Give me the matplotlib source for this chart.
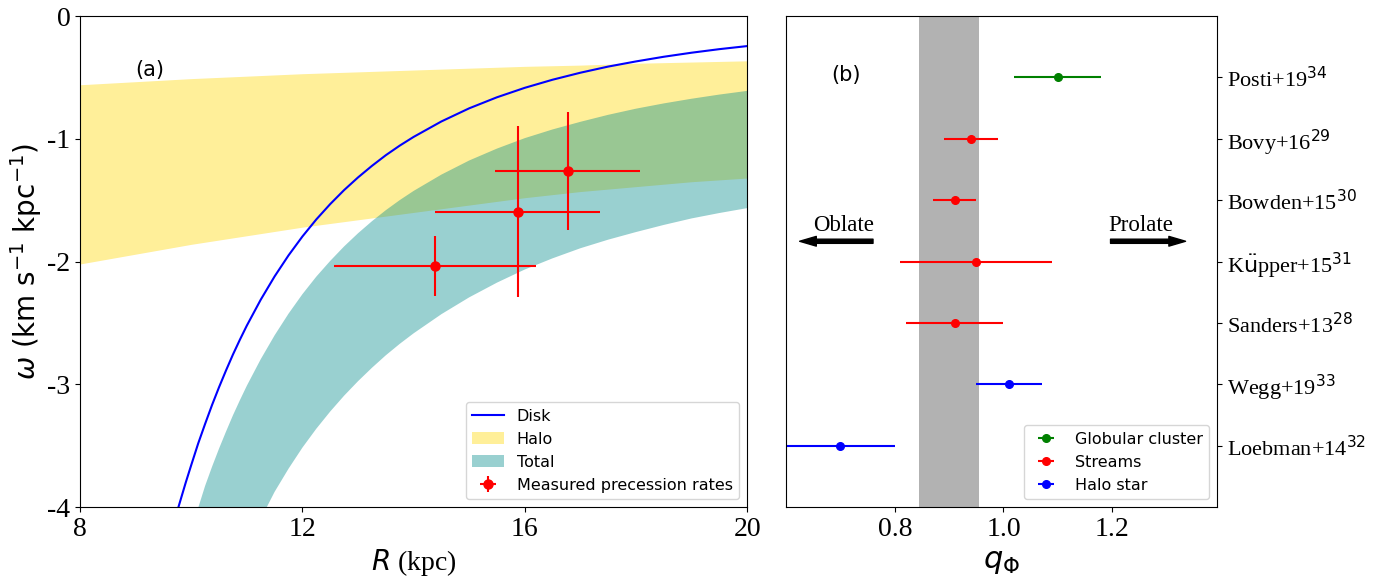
import matplotlib
matplotlib.use('Agg')
import matplotlib.pyplot as plt
import numpy as np

plt.rcParams['font.family'] = 'serif'
plt.rcParams['font.serif'] = ['Liberation Serif', 'DejaVu Serif']
plt.rcParams['mathtext.fontset'] = 'dejavusans'
plt.rcParams['axes.unicode_minus'] = False

# --- panel (a): precession rates vs radius ---
R_disk = [9.77, 9.9, 10.0, 10.125, 10.25, 10.375, 10.5, 10.625, 10.75, 10.875, 11.0,
          11.25, 11.5, 11.75, 12.0, 12.25, 12.5, 12.75, 13.0, 13.25, 13.5, 13.75,
          14.0, 14.5, 15.0, 15.5, 16.0, 16.5, 17.0, 17.5, 18.0, 18.5, 19.0, 19.5, 20.0]
w_disk = [-4.00, -3.802, -3.658, -3.482, -3.322, -3.168, -3.024, -2.888, -2.758, -2.637, -2.522,
          -2.311, -2.121, -1.950, -1.796, -1.657, -1.532, -1.418, -1.315, -1.221, -1.134, -1.056,
          -0.985, -0.859, -0.752, -0.662, -0.585, -0.519, -0.462, -0.412, -0.370, -0.332,
          -0.299, -0.270, -0.245]

R_halo = [8, 9, 10, 11, 12, 13, 14, 15, 16, 17, 18, 19, 20]
w_halo_hi = [-0.56, -0.535, -0.51, -0.49, -0.47, -0.455, -0.44, -0.425, -0.41, -0.40, -0.385, -0.375, -0.365]
w_halo_lo = [-2.02, -1.94, -1.86, -1.79, -1.72, -1.66, -1.60, -1.54, -1.48, -1.43, -1.39, -1.35, -1.32]

R_tot_hi = [10.13, 10.25, 10.375, 10.5, 10.625, 10.75, 10.875, 11.0, 11.25, 11.5, 11.75,
            12.0, 12.25, 12.5, 12.75, 13.0, 13.25, 13.5, 13.75, 14.0, 14.5, 15.0, 15.5,
            16.0, 16.5, 17.0, 17.5, 18.0, 18.5, 19.0, 19.5, 20.0]
w_tot_hi = [-4.00, -3.827, -3.671, -3.524, -3.386, -3.253, -3.130, -3.012, -2.796, -2.601, -2.425,
            -2.266, -2.123, -1.995, -1.877, -1.770, -1.672, -1.582, -1.500, -1.425, -1.292, -1.177,
            -1.080, -0.995, -0.924, -0.862, -0.805, -0.755, -0.712, -0.674, -0.640, -0.61]
R_tot_lo = [11.36, 11.5, 11.75, 12.0, 12.25, 12.5, 12.75, 13.0, 13.25, 13.5, 13.75, 14.0,
            14.5, 15.0, 15.5, 16.0, 16.5, 17.0, 17.5, 18.0, 18.5, 19.0, 19.5, 20.0]
w_tot_lo = [-4.00, -3.876, -3.688, -3.516, -3.362, -3.222, -3.093, -2.975, -2.866, -2.764, -2.671,
            -2.585, -2.429, -2.292, -2.172, -2.065, -1.974, -1.892, -1.822, -1.760, -1.702,
            -1.649, -1.605, -1.565]

R_meas = [14.38, 15.87, 16.77]
R_meas_err = [1.82, 1.48, 1.30]
w_meas = [-2.035, -1.595, -1.26]
w_meas_err = [0.245, 0.695, 0.48]

# --- panel (b): halo flattening estimates ---
studies = ['Posti+19$^{34}$', 'Bovy+16$^{29}$', 'Bowden+15$^{30}$',
           r'K$\ddot{\rm u}$pper+15$^{31}$', 'Sanders+13$^{28}$',
           'Wegg+19$^{33}$', 'Loebman+14$^{32}$']
q_val = [1.10, 0.94, 0.91, 0.95, 0.91, 1.01, 0.70]
q_err = [0.08, 0.05, 0.04, 0.14, 0.09, 0.06, 0.10]
tracer = ['Globular cluster', 'Streams', 'Streams', 'Streams', 'Streams',
          'Halo star', 'Halo star']
tracer_names = ['Globular cluster', 'Streams', 'Halo star']
tracer_colors = ['green', 'red', 'blue']
q_band = (0.845, 0.955)

fig = plt.figure(figsize=(13.9, 5.78), dpi=100)
ax1 = fig.add_axes([0.0576, 0.1228, 0.4799, 0.8495])
ax2 = fig.add_axes([0.5655, 0.1228, 0.3101, 0.8495])

ax1.plot(R_disk, w_disk, color='blue', lw=1.5, label='Disk')
ax1.fill_between(R_halo, w_halo_lo, w_halo_hi, color='gold', alpha=0.4,
                 lw=0, label='Halo')
ax1.fill(np.concatenate([R_tot_hi, R_tot_lo[::-1]]),
         np.concatenate([w_tot_hi, w_tot_lo[::-1]]),
         color='darkcyan', alpha=0.4, lw=0, label='Total')
ax1.errorbar(R_meas, w_meas, xerr=R_meas_err, yerr=w_meas_err, fmt='o',
             color='red', ms=6.5, elinewidth=1.5, label='Measured precession rates')

ax1.set_xlim(8, 20)
ax1.set_ylim(-4, 0)
ax1.set_xticks([8, 12, 16, 20])
ax1.set_yticks([0, -1, -2, -3, -4])
ax1.tick_params(labelsize=20)
ax1.set_xlabel('$R$ (kpc)', fontsize=20)
ax1.set_ylabel(r'$\omega$ (km s$^{-1}$ kpc$^{-1}$)', fontsize=20,
               fontfamily='DejaVu Sans', labelpad=2)
ax1.text(0.105, 0.89, '(a)', transform=ax1.transAxes, ha='center', va='center',
         fontsize=15, fontfamily='DejaVu Sans')
ax1.legend(loc='lower right', prop={'family': 'DejaVu Sans', 'size': 11.5})

ypos = np.arange(len(studies))[::-1]
ax2.axvspan(q_band[0], q_band[1], color='gray', alpha=0.6, lw=0, zorder=0)
for name, col in zip(tracer_names, tracer_colors):
    idx = [i for i, t in enumerate(tracer) if t == name]
    ax2.errorbar([q_val[i] for i in idx], [ypos[i] for i in idx],
                 xerr=[q_err[i] for i in idx], fmt='o', color=col,
                 ms=5.5, elinewidth=1.5, label=name)

ax2.annotate('', xy=(0.625, 3.33), xytext=(0.76, 3.33),
             arrowprops=dict(facecolor='black', edgecolor='black', width=3,
                             headwidth=7, headlength=12, shrink=0))
ax2.annotate('', xy=(1.335, 3.33), xytext=(1.197, 3.33),
             arrowprops=dict(facecolor='black', edgecolor='black', width=3,
                             headwidth=7, headlength=12, shrink=0))
ax2.text(0.705, 3.5, 'Oblate', ha='center', va='baseline', fontsize=16.5)
ax2.text(1.253, 3.5, 'Prolate', ha='center', va='baseline', fontsize=16.5)
ax2.text(0.14, 0.88, '(b)', transform=ax2.transAxes, ha='center', va='center',
         fontsize=15, fontfamily='DejaVu Sans')

ax2.set_xlim(0.6, 1.393)
ax2.set_ylim(-1, 7)
ax2.set_xticks([0.8, 1.0, 1.2])
ax2.set_xticklabels(['0.8', '1.0', '1.2'])
ax2.yaxis.tick_right()
ax2.set_yticks(ypos)
ax2.set_yticklabels(studies)
ax2.tick_params(axis='x', labelsize=20)
ax2.tick_params(axis='y', labelsize=16)
ax2.set_xlabel(r'$q_\Phi$', fontsize=22)
ax2.legend(loc='lower right', prop={'family': 'DejaVu Sans', 'size': 11.5})

fig.savefig('out.png', dpi=100)
